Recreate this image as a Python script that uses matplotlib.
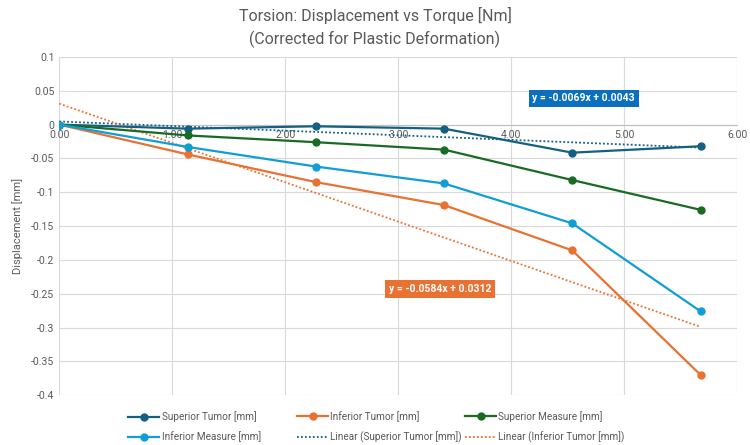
import numpy as np
import matplotlib.pyplot as plt
from matplotlib.ticker import FuncFormatter, MultipleLocator

# Data
torque = [0.0, 1.135, 2.27, 3.405, 4.54, 5.675]
superior_tumor = [0.0, -0.006, -0.0025, -0.006, -0.0415, -0.032]
inferior_tumor = [0.0, -0.044, -0.085, -0.119, -0.186, -0.370]
superior_measure = [0.0, -0.016, -0.026, -0.037, -0.082, -0.126]
inferior_measure = [0.0, -0.033, -0.062, -0.087, -0.146, -0.276]

series_names = ["Superior Tumor [mm]", "Inferior Tumor [mm]",
                "Superior Measure [mm]", "Inferior Measure [mm]"]
colors = ["#156082", "#E97132", "#196B24", "#0F9ED5"]

plt.rcParams['font.family'] = ['Roboto', 'DejaVu Sans']
gray = "#595959"

fig = plt.figure(figsize=(7.5, 4.45), dpi=100)
ax = fig.add_axes([0.079, 0.112, 0.904, 0.760])

handles = {}
for name, vals, c in zip(series_names,
                         [superior_tumor, inferior_tumor, superior_measure, inferior_measure],
                         colors):
    h, = ax.plot(torque, vals, color=c, lw=1.6, marker='o', markersize=5, label=name,
                 zorder=3)
    handles[name] = h

# Linear trendlines (least squares)
x = np.array(torque)
trend = {}
for name, vals, c in [("Superior Tumor [mm]", superior_tumor, colors[0]),
                      ("Inferior Tumor [mm]", inferior_tumor, colors[1])]:
    a1, a0 = np.polyfit(x, np.array(vals), 1)
    xl = np.array([0, x[-1]])
    h, = ax.plot(xl, a0 + a1 * xl, color=c, lw=1.3, ls=(0, (1, 1.2)),
                 label=f"Linear ({name})", zorder=2)
    trend[name] = h

ax.text(4.64, 0.039, "y = -0.0069x + 0.0043", color='white', fontsize=7.5,
        fontweight='bold', ha='center', va='center',
        bbox=dict(boxstyle='square,pad=0.35', fc="#0B6FBF", ec='none'), zorder=5)
ax.text(3.37, -0.243, "y = -0.0584x + 0.0312", color='white', fontsize=7.5,
        fontweight='bold', ha='center', va='center',
        bbox=dict(boxstyle='square,pad=0.35', fc=colors[1], ec='none'), zorder=5)

ax.set_xlim(0, 6)
ax.set_ylim(-0.4, 0.1)
ax.xaxis.set_major_locator(MultipleLocator(1))
ax.yaxis.set_major_locator(MultipleLocator(0.05))
ax.xaxis.set_major_formatter(FuncFormatter(lambda v, p: f"{v:.2f}"))
ax.yaxis.set_major_formatter(FuncFormatter(lambda v, p: f"{round(v, 2):g}"))
ax.grid(True, color="#D9D9D9", lw=0.8, zorder=0)
ax.set_axisbelow(True)

for s in ['top', 'right', 'left']:
    ax.spines[s].set_visible(False)
ax.spines['bottom'].set_position(('data', 0))
ax.spines['bottom'].set_color("#BFBFBF")
ax.spines['bottom'].set_zorder(1)
ax.tick_params(axis='both', length=0, labelsize=7.5, labelcolor=gray)
ax.tick_params(axis='x', pad=4)

ax.set_ylabel("Displacement [mm]", fontsize=8, color=gray, labelpad=6)
fig.suptitle("Torsion: Displacement vs Torque [Nm]\n(Corrected for Plastic Deformation)",
             fontsize=11.5, color=gray, y=0.985, x=0.5, linespacing=1.55)

# legend: three fixed-width columns, two rows
columns = [[handles[series_names[0]], handles[series_names[3]]],
           [handles[series_names[1]], trend["Superior Tumor [mm]"]],
           [handles[series_names[2]], trend["Inferior Tumor [mm]"]]]
col_x = [128 / 750, 297 / 750, 465 / 750]
for hs, cx in zip(columns, col_x):
    fig.legend(handles=hs, labels=[h.get_label() for h in hs],
               loc='center left', bbox_to_anchor=(cx, 0.0405), frameon=False,
               fontsize=7.2, labelcolor=gray, handlelength=3.1,
               handletextpad=0.25, labelspacing=0.95, borderaxespad=0,
               borderpad=0)

fig.savefig("out.png", dpi=100)
